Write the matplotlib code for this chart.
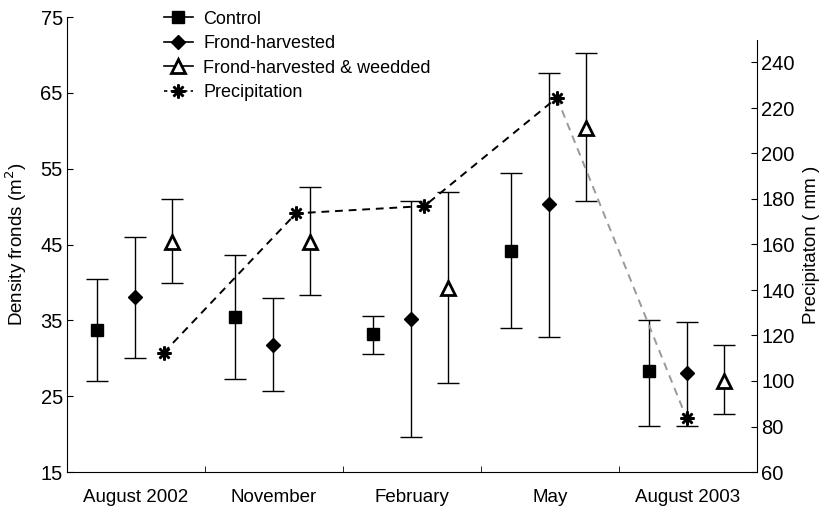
import matplotlib
matplotlib.use("Agg")

import matplotlib.pyplot as plt
from matplotlib.lines import Line2D
import numpy as np

plt.rcParams['font.family'] = ['Liberation Sans', 'DejaVu Sans']

months = ['August 2002', 'November', 'February', 'May', 'August 2003']

# density fronds (m2): mean, lower and upper error-bar ends
control = [33.7, 35.4, 33.2, 44.2, 28.3]
control_lo = [27.0, 27.2, 30.5, 34.0, 21.1]
control_hi = [40.4, 43.6, 35.6, 54.4, 35.1]

frond = [38.1, 31.8, 35.2, 50.3, 28.1]
frond_lo = [30.0, 25.7, 19.6, 32.8, 21.1]
frond_hi = [46.0, 37.9, 50.8, 67.6, 34.8]

weeded = [45.3, 45.3, 39.2, 60.3, 27.0]
weeded_lo = [39.9, 38.4, 26.7, 50.8, 22.6]
weeded_hi = [51.0, 52.6, 51.9, 70.2, 31.7]

# precipitation (mm), right axis
precip = [112.4, 173.7, 176.9, 224.5, 83.6]
precip_off = [0.70, 0.66, 0.59, 0.55, 0.49]

grp = np.arange(len(months))

fig = plt.figure(figsize=(8.30, 5.11), dpi=100)
ax = fig.add_axes([67/830, 39/511, 690/830, 455/511])
ax2 = ax.twinx()


def errs(v, lo, hi):
    v, lo, hi = np.array(v), np.array(lo), np.array(hi)
    return [v - lo, hi - v]


ebkw = dict(ls='none', ecolor='black', elinewidth=1.0, capsize=8, capthick=1.0)
ax.errorbar(grp + 0.22, control, yerr=errs(control, control_lo, control_hi),
            marker='s', ms=8.5, mfc='black', mec='black', **ebkw)
ax.errorbar(grp + 0.49, frond, yerr=errs(frond, frond_lo, frond_hi),
            marker='D', ms=7, mfc='black', mec='black', **ebkw)
eb3 = ax.errorbar(grp + 0.76, weeded, yerr=errs(weeded, weeded_lo, weeded_hi),
                  marker='^', ms=9.5, mfc='white', mec='black', **ebkw)
eb3[0].set_markeredgewidth(2.0)

star = (8, 2, 0)
px = grp + np.array(precip_off)
ax2.plot(px[:4], precip[:4], ls=(0, (4, 3)), color='black', lw=1.4)
ax2.plot(px[3:], precip[3:], ls=(0, (4, 3)), color='#999999', lw=1.4)
ax2.plot(px, precip, ls='none', marker=star, ms=10, mew=1.8, mec='black')

ax.set_xlim(0, 5)
ax.set_ylim(15, 75)
ax.set_yticks(np.arange(15, 76, 10))
ax.set_xticks(grp + 0.5)
ax.set_xticklabels(months)
ax.set_xticks(np.arange(1, 5), minor=True)
ax.tick_params(axis='x', which='major', length=0, labelsize=13.5, pad=12)
ax.tick_params(axis='x', which='minor', direction='in', length=4)
ax.tick_params(axis='y', direction='in', length=4, labelsize=14.5, pad=3)
ax.set_ylabel('Density fronds (m$^2$)', fontsize=13.5, labelpad=8)

ax2.set_ylim(60, 260)
ax2.set_yticks(np.arange(60, 241, 20))
ax2.spines['right'].set_bounds(60, 250)
ax2.tick_params(axis='y', direction='in', length=4, labelsize=14.5, pad=3)
ax2.set_ylabel('Precipitaton ( mm )', fontsize=13.5, labelpad=6)

for a in (ax, ax2):
    a.spines['top'].set_visible(False)
ax.spines['right'].set_visible(False)
ax2.spines['left'].set_visible(False)
ax2.spines['bottom'].set_visible(False)

handles = [
    Line2D([], [], color='black', lw=1.2, marker='s', ms=8.5),
    Line2D([], [], color='black', lw=1.2, marker='D', ms=7),
    Line2D([], [], color='black', lw=1.2, marker='^', ms=9.5, mfc='white', mew=2.0),
    Line2D([], [], color='black', lw=1.2, ls=(0, (2, 2)), marker=star, ms=10, mew=1.8),
]
leg = fig.legend(handles,
                 ['Control', 'Frond-harvested', 'Frond-harvested & weedded',
                  'Precipitation'],
                 loc='upper left', bbox_to_anchor=(160/830, 1 - 7/511),
                 frameon=False, fontsize=13, handlelength=1.6,
                 handletextpad=0.6, labelspacing=0.42, borderpad=0.2,
                 borderaxespad=0)

fig.savefig('out.png', dpi=100)
plt.close(fig)
